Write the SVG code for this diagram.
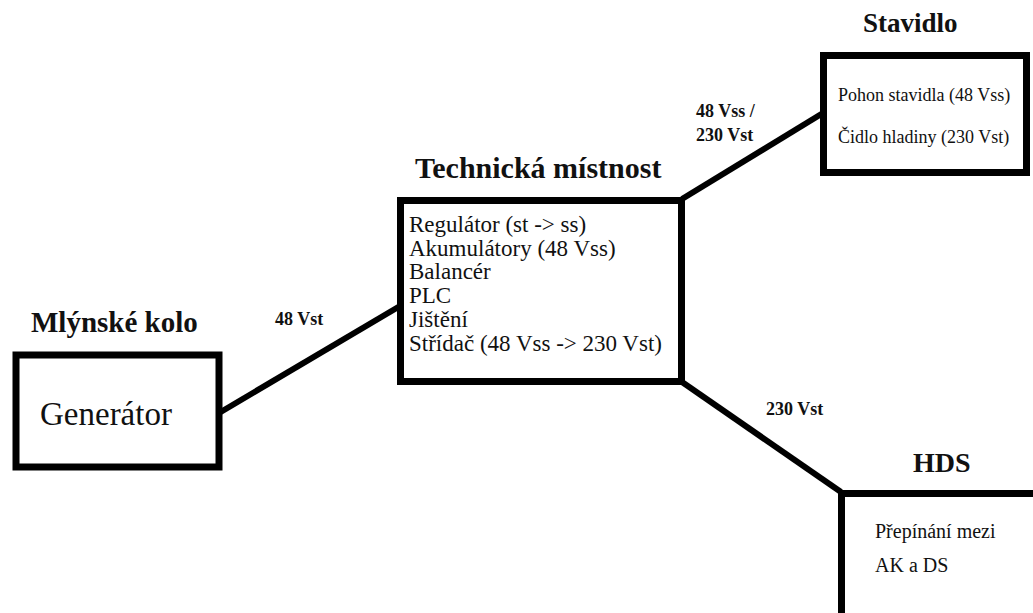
<svg xmlns="http://www.w3.org/2000/svg" width="1033" height="613" viewBox="0 0 1033 613">
<style>
.box{fill:#fff;stroke:#000;stroke-width:7}
.con{fill:none;stroke:#000;stroke-width:6}
.title{font-weight:bold;fill:#111}
.lbl{font-weight:bold;font-size:18px;fill:#111}
.txt{fill:#111}
</style>
<rect width="1033" height="613" fill="#fff"/>
<g font-family="Liberation Serif, DejaVu Serif, serif">
<g id="connectors">
<line class="con" x1="219" y1="413" x2="400" y2="306"/>
<line class="con" x1="682" y1="199" x2="823" y2="113"/>
<line class="con" x1="682" y1="382" x2="841" y2="492"/>
<text class="lbl" x="275" y="325">48 Vst</text>
<text class="lbl" x="696" y="117">48 Vss /</text>
<text class="lbl" x="696" y="141">230 Vst</text>
<text class="lbl" x="766" y="415">230 Vst</text>
</g>
<g id="mlynske-kolo">
<text class="title" x="31" y="332" font-size="29">Mlýnské kolo</text>
<rect class="box" x="16" y="355" width="203" height="112" stroke-width="6"/>
<text class="txt" x="40" y="425" font-size="33">Generátor</text>
</g>
<g id="technicka-mistnost">
<text class="title" x="415" y="178" font-size="30">Technická místnost</text>
<rect class="box" x="400.5" y="200.5" width="281" height="181"/>
<g class="txt" font-size="23">
<text x="409" y="232">Regulátor (st -&gt; ss)</text>
<text x="409" y="255.7">Akumulátory (48 Vss)</text>
<text x="409" y="279.4">Balancér</text>
<text x="409" y="303.1">PLC</text>
<text x="409" y="326.8">Jištění</text>
<text x="409" y="350.5">Střídač (48 Vss -&gt; 230 Vst)</text>
</g>
</g>
<g id="stavidlo">
<text class="title" x="863" y="32" font-size="27">Stavidlo</text>
<rect class="box" x="823.5" y="55.5" width="203" height="117"/>
<text class="txt" x="838" y="101" font-size="18">Pohon stavidla (48 Vss)</text>
<text class="txt" x="838" y="143" font-size="18">Čidlo hladiny (230 Vst)</text>
</g>
<g id="hds">
<text class="title" x="913" y="472" font-size="28">HDS</text>
<path class="box" d="M841.5 700 V493.5 H1045"/>
<text class="txt" x="875" y="538" font-size="20">Přepínání mezi</text>
<text class="txt" x="875" y="572" font-size="20">AK a DS</text>
</g>
</g>
</svg>
